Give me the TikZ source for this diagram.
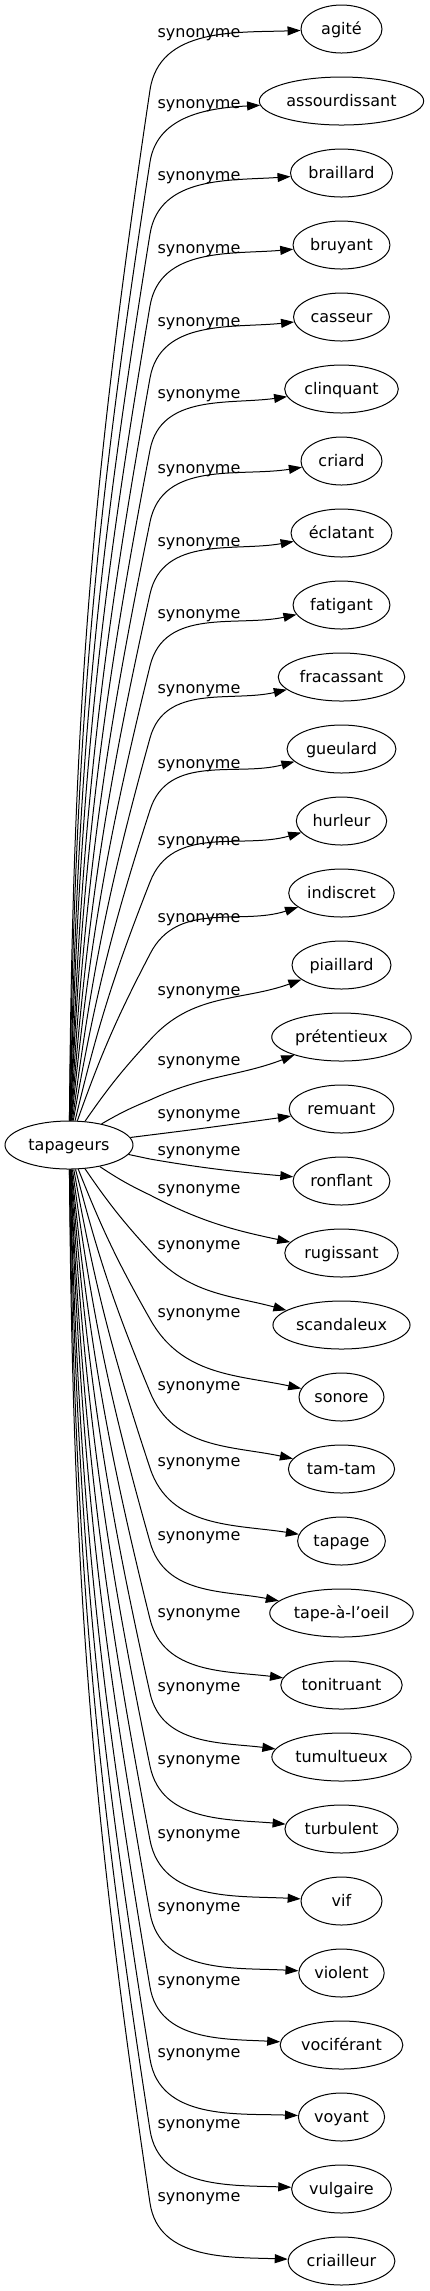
\documentclass[tikz,border=0pt]{standalone}
\usepackage{fontspec}
\setmainfont{DejaVu Sans}
\usetikzlibrary{arrows.meta,shapes.geometric}

% one unit is one pixel of the 430x2291 layout, drawn at a tenth of a point
\tikzset{
  word/.style={draw, ellipse, line width=0.1pt, inner xsep=0.3pt, inner ysep=0.1pt,
    minimum width=8.1pt, minimum height=4.8pt, text height=1.1pt, text depth=0pt},
  lbl/.style={anchor=base, inner sep=0pt},
  syn/.style={line width=0.1pt, -{Triangle[length=1.3pt,width=0.9pt]}},
}

\begin{document}
\begin{tikzpicture}[x=0.1pt, y=-0.1pt, font=\fontsize{1.6}{1.9}\selectfont]
  \useasboundingbox (0,0) rectangle (430,2291);
  \node[word, minimum width=12.8pt] (tap) at (69,1145) {tapageurs};
  % word / label y / bend y / bend angle / arrival angle
  \foreach \i/\w/\lab/\bendy/\bang/\arr in {
      0/agité/32/90/4/2,
      1/assourdissant/103/162/4/3,
      2/braillard/175/234/4/4,
      3/bruyant/248/306/4/5,
      4/casseur/321/378/4/6,
      5/clinquant/393/450/4/8,
      6/criard/468/522/4/9,
      7/éclatant/541/594/4/10,
      8/fatigant/613/666/4/12,
      9/fracassant/688/738/4/13,
      10/gueulard/763/810/4/15,
      11/hurleur/840/882/4/16,
      12/indiscret/917/954/4/18,
      13/piaillard/990/1040/4/20,
      14/prétentieux/1060/1100/4/21,
      15/remuant/1113/1135/0/8,
      16/ronflant/1150/1159/0/-5,
      17/rugissant/1188/1195/-4/-12,
      18/scandaleux/1244/1251/-4/-15,
      19/sonore/1312/1319/-4/-12,
      20/tam-tam/1385/1392/-4/-12,
      21/tapage/1461/1468/-4/-9,
      22/tape-à-l'oeil/1535/1542/-4/-11,
      23/tonitruant/1612/1619/-4/-7,
      24/tumultueux/1686/1693/-4/-7,
      25/turbulent/1759/1766/-4/-5,
      26/vif/1833/1840/-4/-3,
      27/violent/1906/1913/-4/-3,
      28/vociférant/1980/1987/-4/-3,
      29/voyant/2052/2059/-4/-2,
      30/vulgaire/2123/2130/-4/-2,
      31/criailleur/2196/2203/-4/-2}{
    \pgfmathsetmacro\ny{29+72*\i}
    \pgfmathsetmacro\chd{atan2(1145-\bendy,81)}
    \pgfmathsetmacro\sta{\chd+\bang}
    \pgfmathsetmacro\outa{\chd-\bang}
    \pgfmathsetmacro\ina{180+\arr}
    \node[word] (n\i) at (341.5,\ny) {\w};
    \node[lbl] (l\i) at (199,\lab+5) {synonyme};
    \draw[syn] (tap.\sta) to[bend left=\bang] (150,\bendy)
      to[out=\outa, in=\ina] (n\i.\ina);
  }
\end{tikzpicture}
\end{document}
